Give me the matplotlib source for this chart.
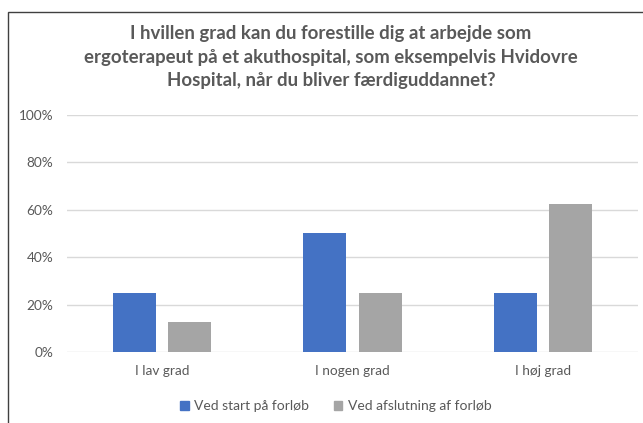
import matplotlib
matplotlib.use("Agg")
import matplotlib.pyplot as plt
from matplotlib.patches import Rectangle, Patch
from matplotlib.ticker import PercentFormatter
import numpy as np

categories = ["I lav grad", "I nogen grad", "I høj grad"]
series_names = ["Ved start på forløb", "Ved afslutning af forløb"]
start_values = [0.25, 0.50, 0.25]
end_values = [0.125, 0.25, 0.625]
yticks = [0, 0.2, 0.4, 0.6, 0.8, 1.0]
title = ("I hvillen grad kan du forestille dig at arbejde som\n"
         "ergoterapeut på et akuthospital, som eksempelvis Hvidovre\n"
         "Hospital, når du bliver færdiguddannet?")

plt.rcParams['font.family'] = ['Lato', 'DejaVu Sans']

W, H = 643, 423
fig = plt.figure(figsize=(W / 100, H / 100), dpi=100)
fig.patch.set_facecolor("white")

# chart frame (cropped on right/bottom)
fig.patches.append(Rectangle((8 / W, -0.1), 1.2, (H - 12) / H + 0.1,
                             transform=fig.transFigure, fill=False,
                             edgecolor="#404040", linewidth=1.0))

ax = fig.add_axes([67 / W, 1 - 352 / H, (638 - 67) / W, (352 - 115) / H])
x = np.arange(len(categories))
bw = 0.225
off = 0.145
ax.bar(x - off, start_values, bw, color="#4472C4", zorder=3, label=series_names[0])
ax.bar(x + off, end_values, bw, color="#A5A5A5", zorder=3, label=series_names[1])

ax.set_xlim(-0.5, len(categories) - 0.5)
ax.set_ylim(0, 1.0)
ax.set_yticks(yticks)
ax.yaxis.set_major_formatter(PercentFormatter(1.0, decimals=0))
ax.set_xticks(x)
ax.set_xticklabels(categories)
ax.grid(axis="y", color="#D9D9D9", linewidth=1.0, zorder=0)
ax.set_axisbelow(True)
for s in ax.spines.values():
    s.set_visible(False)
ax.tick_params(axis="both", length=0, colors="#595959", labelsize=9.8)
ax.tick_params(axis="y", pad=10)
ax.tick_params(axis="x", pad=9)

fig.text(331 / W, 1 - 57 / H, title, ha="center", va="center",
         fontsize=13.4, fontweight="bold", color="#595959", linespacing=1.45)

handles = [Patch(color="#4472C4"), Patch(color="#A5A5A5")]
fig.legend(handles, series_names, loc="center", bbox_to_anchor=(336 / W, 1 - 406 / H),
           ncol=2, frameon=False, fontsize=10, labelcolor="#595959",
           handlelength=0.6, handleheight=0.6, handletextpad=0.4, columnspacing=1.8)

fig.savefig("out.png", dpi=100, facecolor="white")
